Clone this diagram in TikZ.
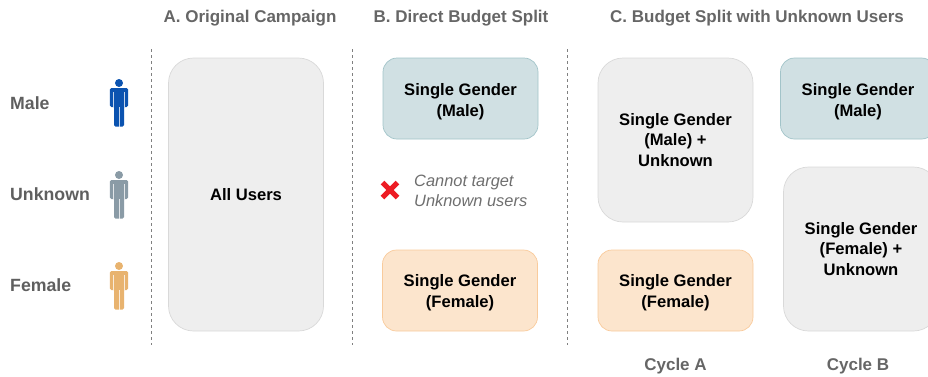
\documentclass[tikz,border=0pt]{standalone}
\usepackage{fontspec}
\setmainfont{Liberation Sans}
\definecolor{headgray}{HTML}{666666}
\definecolor{sidegray}{HTML}{5F5F5F}
\definecolor{notegray}{HTML}{6E6E6E}
\definecolor{neutralfill}{HTML}{EEEEEE}
\definecolor{neutralline}{HTML}{D9D9D9}
\definecolor{malefill}{HTML}{D0E0E3}
\definecolor{maleline}{HTML}{A2C4C9}
\definecolor{femalefill}{HTML}{FCE5CD}
\definecolor{femaleline}{HTML}{F9CB9C}
\definecolor{maleicon}{HTML}{0B53B0}
\definecolor{unknownicon}{HTML}{8A9BA6}
\definecolor{femaleicon}{HTML}{E8B36F}
\definecolor{crossred}{HTML}{ED1C24}
\tikzset{
  heading/.style={text=headgray,font=\fontsize{17}{20}\selectfont\bfseries,inner sep=0pt},
  sidelabel/.style={text=sidegray,font=\fontsize{17.7}{20}\selectfont\bfseries,anchor=west,inner sep=0pt},
  groupbox/.style={draw,line width=0.7pt,align=center,inner sep=0pt,
    font=\fontsize{16.6}{20.3}\selectfont\bfseries},
  neutralbox/.style={groupbox,draw=neutralline,fill=neutralfill},
  shortbox/.style={groupbox,rounded corners=14pt,minimum width=155pt,minimum height=81pt,
    font=\fontsize{16.6}{21}\selectfont\bfseries,text height=39.5pt,text depth=3.5pt},
  malebox/.style={shortbox,draw=maleline,fill=malefill},
  femalebox/.style={shortbox,draw=femaleline,fill=femalefill,text height=37.5pt},
  divider/.style={dashed,gray,line width=0.7pt},
  personicon/.pic={
    \fill[#1] (0,0) circle (4);
    \fill[#1,rounded corners=1.5pt] (-9.2,5) rectangle (9.2,24);
    \fill[#1,rounded corners=1.5pt] (-5,8) rectangle (5,43.5);
    \draw[white,opacity=0.75,line width=0.7pt] (-5.6,9) -- (-5.6,24) (5.6,9) -- (5.6,24) (0,24) -- (0,43.5);
  }
}
\begin{document}
\begin{tikzpicture}[x=1pt,y=-1pt,line cap=butt,line join=round]
\useasboundingbox (0,0) rectangle (928,376);
% headings
\node[heading] (headA) at (250,18) {A. Original Campaign};
\node[heading] (headB) at (461,18) {B. Direct Budget Split};
\node[heading] (headC) at (757,18) {C. Budget Split with Unknown Users};
% left column
\node[sidelabel] (male) at (10,103.5) {Male};
\node[sidelabel] (unknown) at (10,194) {Unknown};
\node[sidelabel] (female) at (10,285.5) {Female};
\pic at (119,83) {personicon=maleicon};
\pic at (119,175) {personicon=unknownicon};
\pic at (119,266) {personicon=femaleicon};
% dividers
\draw[divider] (151.5,49) -- (151.5,345);
\draw[divider] (352.5,49) -- (352.5,345);
\draw[divider] (567.5,49) -- (567.5,345);
% A
\node[neutralbox,rounded corners=25pt,minimum width=155pt,minimum height=273pt] (allusers) at (246,194.5) {All Users};
% B
\node[malebox] (directmale) at (460.5,98.5) {Single Gender\\(Male)};
\node[femalebox] (directfemale) at (460,290.5) {Single Gender\\(Female)};
\draw[crossred,line width=5pt] (382.5,182.5) -- (397.5,197.5) (397.5,182.5) -- (382.5,197.5);
\node[text=notegray,font=\fontsize{16.4}{20}\selectfont\itshape,align=left,anchor=west,inner sep=0pt] (cannot) at (414,191) {Cannot target\\Unknown users};
% C
\node[neutralbox,rounded corners=25pt,minimum width=155pt,minimum height=164pt] (cycleAmale) at (675.5,140) {Single Gender\\(Male) +\\Unknown};
\node[femalebox] (cycleAfemale) at (675.5,290.5) {Single Gender\\(Female)};
\node[malebox] (cycleBmale) at (858,98.5) {Single Gender\\(Male)};
\node[neutralbox,rounded corners=25pt,minimum width=155pt,minimum height=164pt] (cycleBfemale) at (861,249) {Single Gender\\(Female) +\\Unknown};
\node[heading] (cycleA) at (675.5,366) {Cycle A};
\node[heading] (cycleB) at (858,366) {Cycle B};
\end{tikzpicture}
\end{document}
